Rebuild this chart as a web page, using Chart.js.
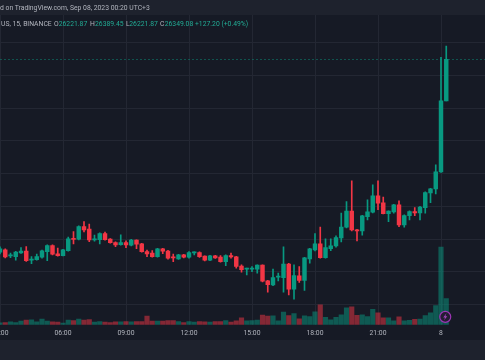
<!DOCTYPE html>
<html><head><meta charset="utf-8">
<script src="https://cdn.jsdelivr.net/npm/chart.js@4.4.0/dist/chart.umd.min.js"></script>
<style>
html,body{margin:0;padding:0;background:#161a25;width:485px;height:360px;overflow:hidden;font-family:Roboto,'Liberation Sans',sans-serif;}
#wrap{position:relative;width:485px;height:360px;}
#top{position:absolute;left:0;top:0;width:485px;height:15px;background:#1e222d;}
#bot{position:absolute;left:0;top:340px;width:485px;height:20px;background:#1e222d;}
canvas{position:absolute;left:0;top:0;}
.t{position:absolute;white-space:nowrap;font-size:6.8px;line-height:8px;color:#b2b5be;}
.g{color:#22ab94;}
</style></head>
<body><div id="wrap">
<div id="top"></div><div id="bot"></div>
<canvas id="c" width="485" height="360"></canvas>
<div class="t" style="left:0;top:4px;">d on TradingView.com, Sep 08, 2023 00:20 UTC+3</div>
<div class="t" style="left:1px;top:20px;">US, 15, BINANCE</div>
<div class="t" style="left:54px;top:20px;">O</div><div class="t g" style="left:58.7px;top:20px;">26221.87</div>
<div class="t" style="left:90px;top:20px;">H</div><div class="t g" style="left:95px;top:20px;">26389.45</div>
<div class="t" style="left:126px;top:20px;">L</div><div class="t g" style="left:129.3px;top:20px;">26221.87</div>
<div class="t" style="left:160px;top:20px;">C</div><div class="t g" style="left:164.7px;top:20px;">26349.08</div>
<div class="t g" style="left:195px;top:20px;">+127.20 (+0.49%)</div>
</div>
<script>
const openP = [
25760.4,25767.4,25749.1,25747.0,25758.3,25763.4,25736.0,25737.8,25745.2,25762.2,
25780.5,25755.2,25750.0,25765.3,25801.9,25800.0,25838.5,25830.5,25797.9,25798.8,
25817.1,25800.0,25789.7,25783.6,25789.7,25781.7,25797.0,25785.7,25762.2,25757.3,
25747.0,25770.4,25763.4,25745.2,25740.0,25752.2,25745.2,25758.3,25759.2,25748.2,
25736.0,25749.1,25745.2,25731.7,25750.0,25746.1,25717.7,25708.6,25708.6,25708.6,
25720.7,25672.9,25660.7,25684.1,25682.9,25723.8,25647.5,25688.1,25673.8,25740.0,
25767.4,25785.7,25743.9,25771.4,25779.6,25804.0,25836.6,25885.4,25828.4,25825.4,
25869.0,25882.4,25932.1,25910.8,25878.1,25883.3,25904.6,25843.6,25872.0,25884.2,
25880.3,25896.4,25941.3,25953.4,26005.3,26221.87];
const highP = [
25776.5,25770.4,25757.3,25762.8,25774.4,25777.5,25747.0,25754.3,25766.5,25782.6,
25782.6,25772.6,25769.0,25806.2,25823.2,25840.6,25853.7,25845.8,25812.2,25819.2,
25821.4,25801.9,25791.8,25813.2,25794.9,25799.5,25797.9,25787.2,25766.5,25765.3,
25771.9,25771.9,25765.9,25754.3,25753.7,25753.7,25762.2,25761.3,25761.3,25749.1,
25750.6,25750.6,25750.0,25752.2,25757.3,25747.6,25721.7,25711.6,25716.5,25721.7,
25721.7,25674.4,25708.6,25696.3,25776.5,25726.2,25721.7,25716.5,25744.5,25771.9,
25817.1,25836.6,25801.0,25801.0,25810.1,25879.3,25914.7,25977.9,25829.9,25872.6,
25919.9,25965.7,25977.9,25928.1,25886.4,25906.2,25916.9,25874.2,25886.4,25896.4,
25900.1,25944.3,25955.0,26026.7,26355.0,26389.45];
const lowP = [
25755.2,25743.0,25743.9,25736.0,25756.7,25732.3,25725.6,25736.0,25742.1,25734.8,
25752.2,25748.2,25749.1,25763.4,25785.7,25797.9,25822.3,25792.7,25793.9,25785.7,
25797.0,25787.9,25777.5,25781.7,25774.4,25779.6,25771.4,25760.4,25747.0,25745.2,
25745.2,25756.1,25739.0,25731.7,25738.4,25743.0,25742.1,25752.2,25744.5,25733.9,
25734.5,25741.5,25729.8,25719.5,25742.1,25711.6,25699.4,25691.2,25701.2,25696.3,
25669.8,25638.4,25658.5,25672.9,25638.4,25630.2,25617.0,25667.7,25643.3,25726.8,
25764.4,25742.1,25742.1,25765.3,25775.6,25791.8,25834.5,25825.4,25794.9,25812.3,
25858.9,25880.3,25890.3,25877.2,25853.7,25879.3,25838.5,25836.6,25858.9,25872.0,
25858.9,25879.3,25911.7,25938.2,26004.0,26221.87];
const closeP = [
25770.4,25746.1,25751.0,25760.4,25763.4,25734.8,25739.0,25747.0,25764.4,25780.5,
25754.3,25750.0,25767.4,25801.0,25799.5,25838.5,25828.4,25797.9,25800.0,25817.1,
25798.8,25789.7,25782.6,25789.7,25782.6,25797.0,25784.8,25762.2,25755.2,25747.0,
25770.4,25763.4,25742.1,25743.0,25752.2,25745.2,25759.2,25759.8,25747.0,25736.0,
25749.1,25743.0,25731.7,25750.0,25746.1,25716.5,25707.3,25710.5,25710.5,25720.7,
25672.0,25661.5,25682.9,25686.0,25723.8,25647.5,25689.0,25673.8,25743.0,25770.4,
25785.7,25743.9,25774.4,25779.6,25804.9,25836.6,25885.4,25828.4,25825.4,25871.1,
25883.3,25932.1,25909.8,25878.1,25885.4,25904.6,25843.6,25872.0,25884.2,25880.3,
25897.6,25942.2,25953.4,26005.3,26221.87,26349.08];
const volume = [
20,23,30,23,37,47,50,30,57,37,
30,27,17,47,43,57,47,53,27,33,
27,23,30,30,33,30,33,33,87,37,
37,37,43,43,33,23,33,27,33,30,
27,33,33,43,27,40,70,40,43,47,
97,87,90,40,127,93,113,60,90,83,
130,200,75,50,75,100,170,180,95,100,
82,155,120,70,70,40,80,40,45,55,
58,92,120,192,777,262];
const tickIdx = [0,12,24,36,48,60,72,84];
const tickLabels = ['03:00','06:00','09:00','12:00','15:00','18:00','21:00','8'];
const priceTicks = [25600,25700,25800,25900,26000,26100,26200,26300,26400];
const eventIdx = 85;

const UP = '#089981', DOWN = '#f23645';
const UPV = 'rgba(8,153,129,0.5)', DOWNV = 'rgba(242,54,69,0.5)';
const isUp = closeP.map((c,i)=>c >= openP[i]);
const candleColors = isUp.map(u=>u?UP:DOWN);
const volColors = isUp.map(u=>u?UPV:DOWNV);
const FONT = 'Roboto, "Liberation Sans", sans-serif';
const GRID = '#232733';

const overlay = {
  id:'overlay',
  afterDatasetsDraw(chart){
    const {ctx, chartArea:a, scales:{x,y}} = chart;
    ctx.save();
    const py = Math.round(y.getPixelForValue(closeP[closeP.length-1]))+0.5;
    ctx.strokeStyle='rgba(8,153,129,0.45)'; ctx.lineWidth=1; ctx.setLineDash([2,2]);
    ctx.beginPath(); ctx.moveTo(a.left,py); ctx.lineTo(a.right,py); ctx.stroke();
    ctx.setLineDash([]);
    const cx = x.getPixelForValue(eventIdx)-1, cy = a.bottom-8;
    ctx.beginPath(); ctx.arc(cx,cy,5.5,0,Math.PI*2);
    ctx.fillStyle='#241c33'; ctx.fill();
    ctx.strokeStyle='#9c36b5'; ctx.lineWidth=1.2; ctx.stroke();
    ctx.beginPath();
    ctx.moveTo(cx+1.2,cy-3.5); ctx.lineTo(cx-2,cy+0.6); ctx.lineTo(cx-0.1,cy+0.6);
    ctx.lineTo(cx-1.2,cy+3.5); ctx.lineTo(cx+2,cy-0.6); ctx.lineTo(cx+0.1,cy-0.6); ctx.closePath();
    ctx.fillStyle='#a745c0'; ctx.fill();
    ctx.restore();
  }
};

new Chart(document.getElementById('c'), {
  type:'bar',
  data:{datasets:[
    {label:'body', data:openP.map((o,i)=>({x:i,y:[o,closeP[i]]})), backgroundColor:candleColors,
     barThickness:3.8, minBarLength:1, grouped:false, yAxisID:'y', order:1, borderWidth:0},
    {label:'wick', data:openP.map((o,i)=>({x:i,y:[lowP[i],highP[i]]})), backgroundColor:candleColors,
     barThickness:1, grouped:false, yAxisID:'y', order:2, borderWidth:0},
    {label:'volume', data:volume.map((v,i)=>({x:i,y:v})), backgroundColor:volColors,
     barThickness:4.5, grouped:false, yAxisID:'yv', order:3, borderWidth:0}
  ]},
  options:{
    responsive:false, animation:false, devicePixelRatio:1,
    layout:{autoPadding:false, padding:{top:15,bottom:19,left:0,right:0}},
    plugins:{legend:{display:false}, tooltip:{enabled:false}},
    scales:{
      x:{type:'linear', min:0, max:92.38, offset:false,
         grid:{color:GRID, drawTicks:false, offset:false}, border:{display:false},
         afterBuildTicks:s=>{s.ticks = tickIdx.map(v=>({value:v}));},
         afterFit:s=>{s.paddingLeft=0; s.paddingRight=0;},
         ticks:{autoSkip:false, maxRotation:0, padding:4, color:'#b2b5be',
                font:{family:FONT, size:6.8},
                callback:(v,i)=>tickLabels[i]}},
      y:{type:'linear', position:'right', min:25538.6, max:26484.1, beginAtZero:false,
         grid:{color:GRID, drawTicks:false}, border:{display:false},
         afterBuildTicks:s=>{s.ticks = priceTicks.map(v=>({value:v}));},
         afterFit:s=>{s.width=0; s.paddingTop=0; s.paddingBottom=0;},
         ticks:{display:false}},
      yv:{type:'linear', display:false, min:0, max:3100}
    }
  },
  plugins:[overlay]
});
</script>
</body></html>
